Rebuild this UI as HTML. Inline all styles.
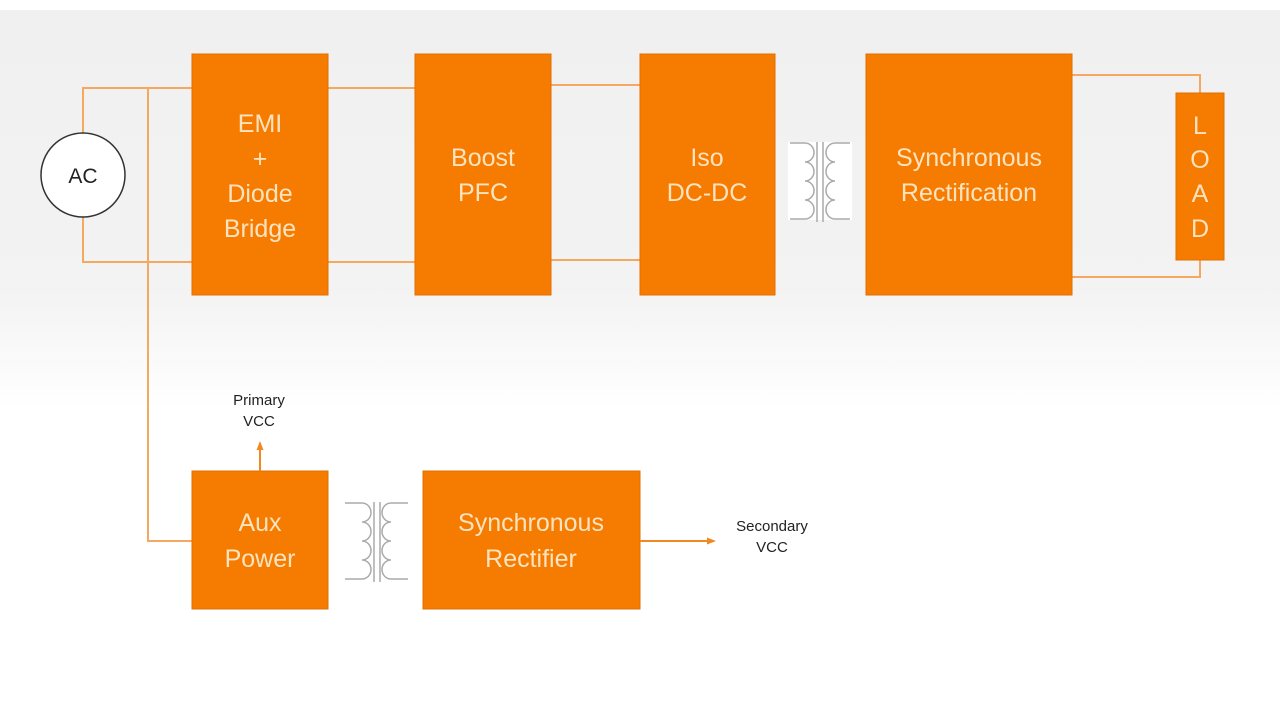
<!DOCTYPE html>
<html><head><meta charset="utf-8"><style>
html,body{margin:0;padding:0;width:1280px;height:721px;overflow:hidden;background:#fff}
svg{display:block}
text{font-family:"Liberation Sans",sans-serif}
.b{fill:#f57c00;stroke:#e07000;stroke-width:1}
.t{fill:#fde3c0;font-size:25px;text-anchor:middle}
.w{stroke:#f5a860;stroke-width:2;fill:none}
.tr{stroke:#aaa;stroke-width:1.5;fill:none}
.s{fill:#222;font-size:15px;text-anchor:middle}
</style></head><body>
<svg width="1280" height="721" viewBox="0 0 1280 721">
<defs><linearGradient id="g" x1="0" y1="0" x2="0" y2="1">
<stop offset="0" stop-color="#f0f0f0"/><stop offset="0.7" stop-color="#f3f3f3"/><stop offset="1" stop-color="#fff"/></linearGradient>
<marker id="a" markerUnits="userSpaceOnUse" markerWidth="9" markerHeight="9" refX="7" refY="4.5" orient="auto"><path d="M0,1L9,4.5L0,8z" fill="#f08a20"/></marker></defs>
<rect x="0" y="10" width="1280" height="400" fill="url(#g)"/>
<path class="w" d="M83,133V88H192M83,217V262H192M148,88V541H192"/>
<path class="w" d="M328,88H415M328,262H415M551,85H640M551,260H640"/>
<path class="w" d="M1072,75H1200V93M1072,277H1200V260"/>
<circle cx="83" cy="175" r="42" fill="#fff" stroke="#333" stroke-width="1.5"/>
<text x="83" y="183" style="font-size:21px;text-anchor:middle;fill:#222">AC</text>
<rect class="b" x="192" y="54" width="136" height="241"/>
<text class="t" x="260" y="132">EMI</text><text class="t" x="260" y="167">+</text><text class="t" x="260" y="202">Diode</text><text class="t" x="260" y="237">Bridge</text>
<rect class="b" x="415" y="54" width="136" height="241"/>
<text class="t" x="483" y="166">Boost</text><text class="t" x="483" y="201">PFC</text>
<rect class="b" x="640" y="54" width="135" height="241"/>
<text class="t" x="707" y="166">Iso</text><text class="t" x="707" y="201">DC-DC</text>
<rect class="b" x="866" y="54" width="206" height="241"/>
<text class="t" x="969" y="166">Synchronous</text><text class="t" x="969" y="201">Rectification</text>
<rect class="b" x="1176" y="93" width="48" height="167"/>
<text class="t" x="1200" y="134">L</text><text class="t" x="1200" y="168">O</text><text class="t" x="1200" y="202">A</text><text class="t" x="1200" y="237">D</text>
<rect x="788" y="142" width="64" height="78" fill="#fff"/>
<g class="tr"><path d="M790,143H805M790,219H805M805,143a9,9.5 0 0 1 0,19a9,9.5 0 0 1 0,19a9,9.5 0 0 1 0,19a9,9.5 0 0 1 0,19"/>
<path d="M850,143H835M850,219H835M835,143a9,9.5 0 0 0 0,19a9,9.5 0 0 0 0,19a9,9.5 0 0 0 0,19a9,9.5 0 0 0 0,19"/>
<path d="M817,142V222M823,142V222"/></g>
<rect class="b" x="192" y="471" width="136" height="138"/>
<text class="t" x="260" y="531">Aux</text><text class="t" x="260" y="567">Power</text>
<line class="w" x1="260" y1="471" x2="260" y2="443" marker-end="url(#a)" style="stroke:#f08a20"/>
<text class="s" x="259" y="405">Primary</text><text class="s" x="259" y="426">VCC</text>
<rect class="b" x="423" y="471" width="217" height="138"/>
<text class="t" x="531" y="531">Synchronous</text><text class="t" x="531" y="567">Rectifier</text>
<line class="w" x1="640" y1="541" x2="714" y2="541" marker-end="url(#a)" style="stroke:#f08a20"/>
<text class="s" x="772" y="531">Secondary</text><text class="s" x="772" y="552">VCC</text>
<g class="tr"><path d="M345,503H362M345,579H362M362,503a9,9.5 0 0 1 0,19a9,9.5 0 0 1 0,19a9,9.5 0 0 1 0,19a9,9.5 0 0 1 0,19"/>
<path d="M408,503H391M408,579H391M391,503a9,9.5 0 0 0 0,19a9,9.5 0 0 0 0,19a9,9.5 0 0 0 0,19a9,9.5 0 0 0 0,19"/>
<path d="M374,502V582M380,502V582"/></g>
</svg>
</body></html>
